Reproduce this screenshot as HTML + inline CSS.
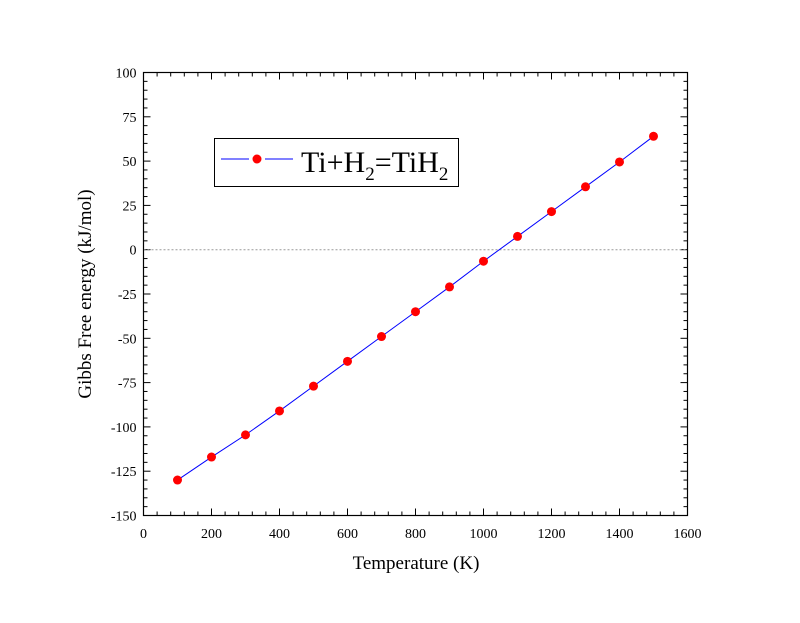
<!DOCTYPE html>
<html><head><meta charset="utf-8"><style>
body{margin:0;background:#fff}
svg text{font-family:"Liberation Serif",serif;fill:#000}
</style></head><body>
<svg id="chart" width="800" height="618" xmlns="http://www.w3.org/2000/svg">
<g id="ticks"></g>
<line id="zl" stroke="#999" stroke-dasharray="2,2" stroke-width="1"/>
<polyline id="series-line" fill="none" stroke="#0000ff" stroke-width="1"/>
<g id="points"></g>
<rect x="143.5" y="72.5" width="544" height="443" fill="none" stroke="#000" stroke-width="1.2"/>
<text x="416" y="569" font-size="19" text-anchor="middle">Temperature (K)</text>
<text transform="translate(91,294) rotate(-90)" font-size="19" text-anchor="middle">Gibbs Free energy (kJ/mol)</text>
<g>
<rect x="214.5" y="138.5" width="244" height="48" fill="#fff" stroke="#000" stroke-width="1"/>
<line x1="221" y1="159" x2="249" y2="159" stroke="#0000ff"/>
<circle cx="257" cy="159" r="4.5" fill="#ff0000"/>
<line x1="265" y1="159" x2="293" y2="159" stroke="#0000ff"/>
<text x="301" y="172" font-size="30">Ti+H<tspan font-size="19" dy="8">2</tspan><tspan dy="-8">=TiH</tspan><tspan font-size="19" dy="8">2</tspan></text>
</g>
</svg>
<script>
const temps=[100,200,300,400,500,600,700,800,900,1000,1100,1200,1300,1400,1500];
const gibbs=[-130,-117,-104.5,-91,-77,-63,-49,-35,-21,-6.5,7.5,21.5,35.5,49.5,64];
const xTicks=[0,200,400,600,800,1000,1200,1400,1600];
const yTicks=[100,75,50,25,0,-25,-50,-75,-100,-125,-150];
const X0=143.5,X1=687.5,Y0=515.5,Y1=72.5;
const xs=v=>X0+(v-0)/1600*(X1-X0);
const ys=v=>Y0-(v+150)/250*(Y0-Y1);
const NS="http://www.w3.org/2000/svg";
const tk=document.getElementById('ticks');
function ln(x1,y1,x2,y2){const l=document.createElementNS(NS,'line');l.setAttribute('x1',x1);l.setAttribute('y1',y1);l.setAttribute('x2',x2);l.setAttribute('y2',y2);l.setAttribute('stroke','#000');


tk.appendChild(l);}
function tx(x,y,s,anchor){const t=document.createElementNS(NS,'text');t.setAttribute('x',x);t.setAttribute('y',y);t.setAttribute('font-size','14');t.setAttribute('text-anchor',anchor);t.textContent=s;


tk.appendChild(t);}
for(let v=0;v<=1600;v+=40){const x=xs(v),big=v%200===0,L=big?7:4;ln(x,Y0,x,Y0-L);ln(x,Y1,x,Y1+L);}
for(let v=-150;v<=100;v+=5){const y=ys(v),big=v%25===0,L=big?7:4;ln(X0,y,X0+L,y);ln(X1,y,X1-L,y);}
xTicks.forEach(v=>tx(xs(v),538,String(v),'middle'));
yTicks.forEach(v=>tx(X0-7,ys(v)+5,String(v),'end'));
const z=document.getElementById('zl');z.setAttribute('x1',X0);z.setAttribute('x2',X1);z.setAttribute('y1',ys(0));z.setAttribute('y2',ys(0));
document.getElementById('series-line').setAttribute('points',temps.map((t,i)=>xs(t)+','+ys(gibbs[i])).join(' '));
const pg=document.getElementById('points');
temps.forEach((t,i)=>{const c=document.createElementNS(NS,'circle');c.setAttribute('cx',xs(t));c.setAttribute('cy',ys(gibbs[i]));c.setAttribute('r','4.5');c.setAttribute('fill','#ff0000');


pg.appendChild(c);});
</script>
</body></html>
